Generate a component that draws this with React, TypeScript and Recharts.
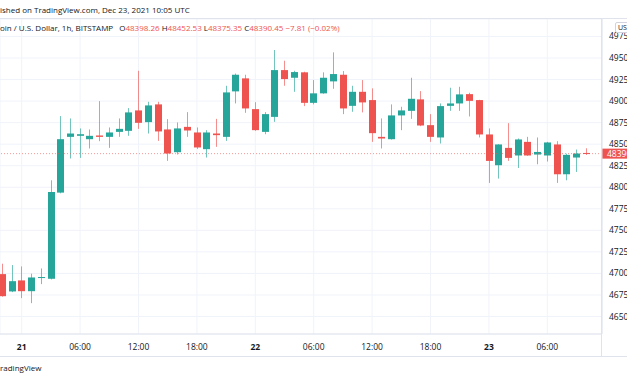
import {
  ComposedChart,
  Bar,
  XAxis,
  YAxis,
  CartesianGrid,
  ReferenceLine,
} from "recharts";

// hour offsets from Dec 21 00:00 UTC, one candle per hour
const hours = [
  -2, -1, 0, 1, 2, 3, 4, 5, 6, 7, 8, 9, 10, 11, 12, 13, 14, 15, 16, 17, 18, 19, 20,
  21, 22, 23, 24, 25, 26, 27, 28, 29, 30, 31, 32, 33, 34, 35, 36, 37, 38, 39, 40, 41,
  42, 43, 44, 45, 46, 47, 48, 49, 50, 51, 52, 53, 54, 55, 56, 57, 58,
];
const opens = [
  46992, 46791, 46919, 46794, 46950, 46938, 47938, 48585, 48597, 48558, 48601, 48585,
  48643, 48655, 48892, 48756, 48962, 48671, 48407, 48701, 48636, 48442, 48624, 48585,
  49113, 49264, 48907, 48643, 48817, 49360, 49271, 49334, 48980, 49090, 49229, 49306,
  48945, 49108, 49012, 48585, 48558, 48834, 48887, 49020, 48721, 48578, 48945, 48973,
  49081, 49012, 48613, 48256, 48457, 48369, 48527, 48380, 48369, 48497, 48151, 48345,
  48398.26,
];
const highs = [
  47113, 47097, 47081, 46997, 47058, 48081, 48826, 48799, 48683, 48671, 49000, 48694,
  48799, 48919, 49352, 48992, 48992, 48791, 48752, 48872, 48694, 48663, 48794, 49178,
  49320, 49306, 48988, 48872, 49593, 49469, 49352, 49341, 49244, 49334, 49566, 49349,
  49178, 49244, 49148, 48799, 48962, 48934, 49271, 49116, 48849, 48973, 49155, 49166,
  49097, 49015, 48683, 48500, 48744, 48566, 48585, 48578, 48527, 48535, 48390, 48438,
  48452.53,
];
const lows = [
  46730, 46783, 46713, 46655, 46876, 46930, 47930, 48334, 48341, 48450, 48535, 48457,
  48585, 48597, 48678, 48624, 48538, 48306, 48380, 48585, 48445, 48345, 48469, 48538,
  48973, 48864, 48655, 48616, 48759, 49178, 49108, 48942, 48962, 49085, 49143, 48849,
  48876, 48869, 48527, 48450, 48553, 48663, 48794, 48709, 48527, 48508, 48887, 48887,
  48822, 48578, 48050, 48101, 48306, 48224, 48365, 48267, 48299, 48050, 48081, 48178,
  48375.35,
];
const closes = [
  46736, 46910, 46794, 46953, 46958, 47945, 48558, 48624, 48616, 48597, 48585, 48636,
  48678, 48869, 48748, 48950, 48648, 48392, 48683, 48659, 48462, 48636, 48605, 49101,
  49306, 48915, 48663, 48849, 49360, 49256, 49337, 48980, 49090, 49271, 49314, 48915,
  49108, 48985, 48628, 48566, 48834, 48892, 49027, 48717, 48585, 48942, 48973, 49078,
  49003, 48613, 48306, 48497, 48341, 48555, 48369, 48410, 48520, 48151, 48376, 48392,
  48390.45,
];

const timeTicks = [0, 6, 12, 18, 24, 30, 36, 42, 48, 54];
const timeLabels = ["21", "06:00", "12:00", "18:00", "22", "06:00", "12:00", "18:00", "23", "06:00"];
const priceTicks = [
  46500, 46750, 47000, 47250, 47500, 47750, 48000, 48250, 48500, 48750, 49000, 49250,
  49500, 49750,
];

const UP = "#26a69a";
const DOWN = "#ef5350";
const TEXT = "#131722";
const FONT = "'Open Sans', sans-serif";

const candles = hours.map((t, i) => ({
  t,
  open: opens[i],
  high: highs[i],
  low: lows[i],
  close: closes[i],
  range: [lows[i], highs[i]],
}));

const lastClose = closes[closes.length - 1];

function Candle(props: any) {
  const { x, y, width, height, payload } = props;
  const { open, close, high, low } = payload;
  const top = Math.min(y, y + height);
  const bot = Math.max(y, y + height);
  const toY = (v: number) => top + ((high - v) / (high - low)) * (bot - top);
  const cx = Math.round(x + width / 2);
  const color = close >= open ? UP : DOWN;
  const bTop = toY(Math.max(open, close));
  const bBot = toY(Math.min(open, close));
  return (
    <g>
      <line x1={cx + 0.5} x2={cx + 0.5} y1={top} y2={bot} stroke={color} strokeOpacity={0.65} />
      <rect x={cx - 3} y={bTop} width={7} height={Math.max(1, bBot - bTop)} fill={color} />
    </g>
  );
}

function TimeTick({ x, y, payload }: any) {
  const label = timeLabels[timeTicks.indexOf(payload.value)];
  const day = label.length < 3;
  return (
    <text x={x} y={y} dy={14} textAnchor="middle" fontSize={8.5} fontWeight={day ? 700 : 400} fill={TEXT} fontFamily={FONT}>
      {label}
    </text>
  );
}

function PriceTick({ x, y, payload }: any) {
  return (
    <text x={x + 5} y={y} dy={3} textAnchor="start" fontSize={8.5} fill={TEXT} fontFamily={FONT}>
      {payload.value}
    </text>
  );
}

function PriceTag({ viewBox }: any) {
  const right = viewBox.x + viewBox.width;
  return (
    <g>
      <rect x={right - 1} y={viewBox.y - 5} width={30} height={10} fill={DOWN} />
      <text x={right + 5} y={viewBox.y + 3} fontSize={8.5} fill="#fff" fontFamily={FONT}>
        {Math.floor(lastClose)}
      </text>
    </g>
  );
}

export default function App() {
  return (
    <div
      style={{
        position: "absolute",
        left: 0,
        top: 0,
        width: 627,
        height: 376,
        overflow: "hidden",
        background: "#fff",
        fontFamily: FONT,
        color: TEXT,
      }}
    >
      <ComposedChart width={627} height={356} data={candles} margin={{ top: 19, right: 0, left: 0, bottom: 0 }}>
        <CartesianGrid stroke="#f0f3fa" />
        <XAxis
          dataKey="t"
          type="number"
          domain={[-2.23, 59.62]}
          allowDataOverflow
          ticks={timeTicks}
          interval={0}
          tick={<TimeTick />}
          tickLine={false}
          tickSize={0}
          height={22}
          axisLine={{ stroke: "#e0e3eb" }}
        />
        <YAxis
          orientation="right"
          domain={[46297, 49953]}
          allowDataOverflow
          ticks={priceTicks}
          interval={0}
          tick={<PriceTick />}
          tickLine={false}
          tickSize={0}
          width={25}
          axisLine={{ stroke: "#e0e3eb" }}
        />
        <ReferenceLine
          y={lastClose}
          stroke={DOWN}
          strokeOpacity={0.6}
          strokeDasharray="1 2"
          label={<PriceTag />}
        />
        <Bar dataKey="range" barSize={7} shape={<Candle />} isAnimationActive={false} />
      </ComposedChart>

      <div style={{ position: "absolute", left: 0, top: 18, width: 627, height: 1, background: "#e0e3eb" }} />
      <div style={{ position: "absolute", left: 601, top: 19, width: 1, height: 337, background: "#e0e3eb" }} />
      <div style={{ position: "absolute", left: 0, top: 356, width: 627, height: 1, background: "#e0e3eb" }} />

      <div style={{ position: "absolute", left: 0, top: 4, fontSize: 8, lineHeight: "12px", whiteSpace: "nowrap" }}>
        ished on TradingView.com, Dec 23, 2021 10:05 UTC
      </div>
      <div style={{ position: "absolute", left: 0, top: 22, fontSize: 8, lineHeight: "12px", whiteSpace: "nowrap" }}>
        oin / U.S. Dollar, 1h, BITSTAMP{" "}
        <span style={{ marginLeft: 4 }}>O</span>
        <span style={{ color: DOWN }}>{opens[opens.length - 1].toFixed(2)}</span>{" "}
        <span>H</span>
        <span style={{ color: DOWN }}>{highs[highs.length - 1].toFixed(2)}</span>{" "}
        <span>L</span>
        <span style={{ color: DOWN }}>{lows[lows.length - 1].toFixed(2)}</span>{" "}
        <span>C</span>
        <span style={{ color: DOWN }}>{lastClose.toFixed(2)}</span>{" "}
        <span style={{ color: DOWN }}>−7.81 (−0.02%)</span>
      </div>
      <div
        style={{
          position: "absolute",
          left: 615,
          top: 22,
          width: 20,
          height: 9,
          border: "1px solid #d1d4dc",
          borderRadius: 2,
          background: "#fff",
          fontSize: 7,
          lineHeight: "9px",
          paddingLeft: 2,
          whiteSpace: "nowrap",
        }}
      >
        USD
      </div>
      <div style={{ position: "absolute", left: 0, top: 362, fontSize: 8, lineHeight: "12px", whiteSpace: "nowrap" }}>
        radingView
      </div>
    </div>
  );
}
